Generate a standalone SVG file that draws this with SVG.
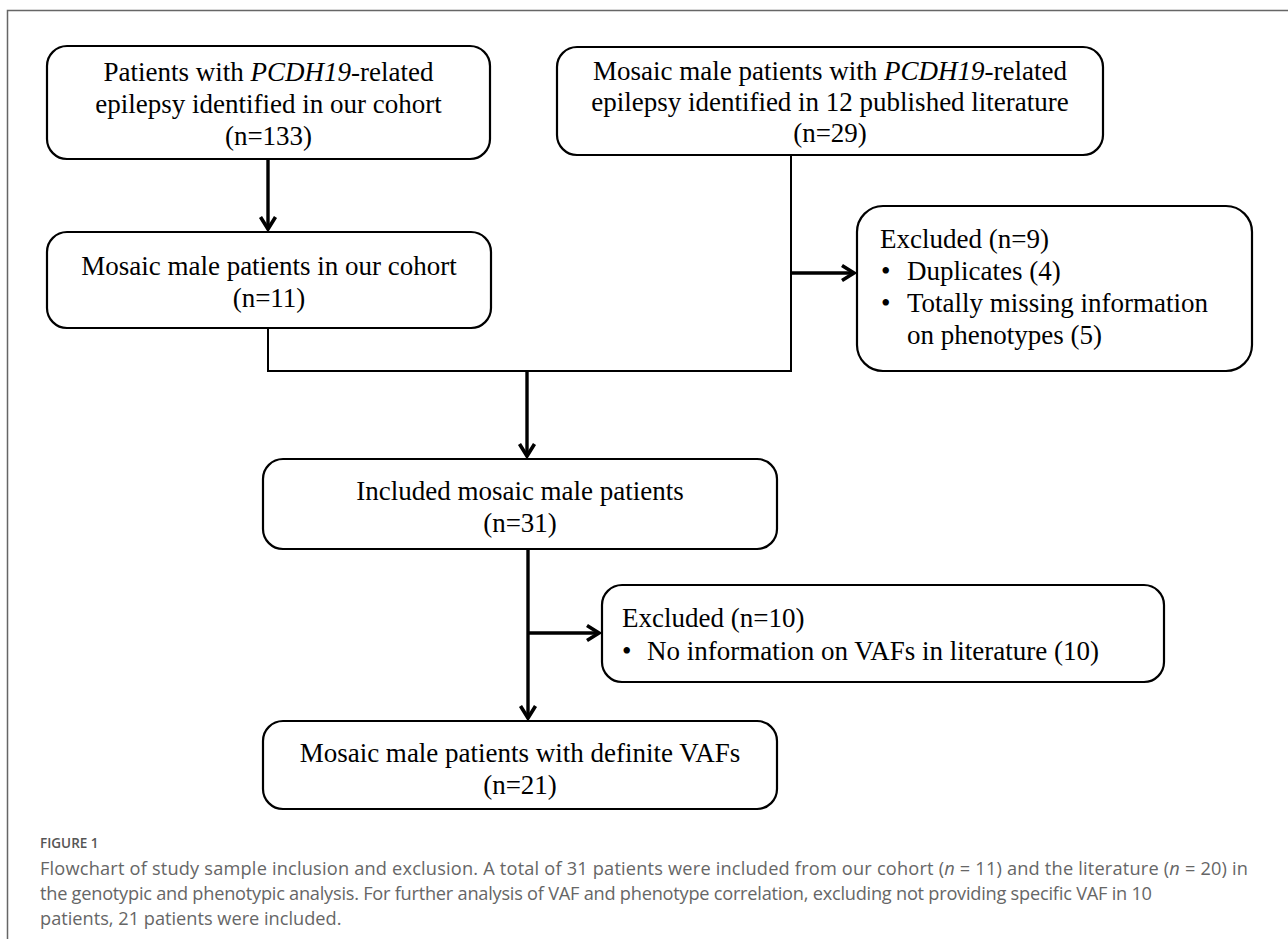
<svg xmlns="http://www.w3.org/2000/svg" width="1288" height="939" viewBox="0 0 1288 939">
<style>
.box{fill:#fff;stroke:#000;stroke-width:2.2}
.t{font-family:"Liberation Serif","Times New Roman",serif;font-size:27px;fill:#000}
.c{text-anchor:middle}
.it{font-style:italic}
.thin{fill:none;stroke:#000;stroke-width:2}
.thick{fill:none;stroke:#000;stroke-width:3.4}
.frame{fill:none;stroke:#666;stroke-width:1.5}
.cap{font-family:"Open Sans","Noto Sans",sans-serif;font-size:18.2px;fill:#666}
.fig{font-family:"Open Sans","Noto Sans",sans-serif;font-size:13.5px;font-weight:600;fill:#555}
</style>
<defs>
<marker id="ah" markerUnits="userSpaceOnUse" markerWidth="24" markerHeight="24" viewBox="-18 -12 24 24" refX="0" refY="0" orient="auto" overflow="visible">
<path d="M-12,-7.5 L0,0 L-12,7.5" fill="none" stroke="#000" stroke-width="3.6" stroke-linejoin="miter"/>
</marker>
</defs>
<rect width="1288" height="939" fill="#fff"/>
<path class="frame" d="M7.5,939 V10.5 H1288"/>

<g id="connectors">
<line class="thick" x1="268" y1="159" x2="268" y2="229" marker-end="url(#ah)"/>
<polyline class="thin" points="268,328 268,371 791,371"/>
<line class="thin" x1="791" y1="155" x2="791" y2="372"/>
<line class="thick" x1="791" y1="273" x2="854" y2="273" marker-end="url(#ah)"/>
<line class="thick" x1="527" y1="371" x2="527" y2="456" marker-end="url(#ah)"/>
<line class="thick" x1="528" y1="549" x2="528" y2="718" marker-end="url(#ah)"/>
<line class="thick" x1="528" y1="633" x2="599" y2="633" marker-end="url(#ah)"/>
</g>

<g id="node-cohort">
<rect class="box" x="47" y="46" width="443" height="113" rx="20"/>
<text class="t c" x="268.5" y="81">Patients with <tspan class="it">PCDH19</tspan>-related</text>
<text class="t c" x="268.5" y="113">epilepsy identified in our cohort</text>
<text class="t c" x="268.5" y="145">(n=133)</text>
</g>

<g id="node-literature">
<rect class="box" x="557" y="47" width="546" height="108" rx="20"/>
<text class="t c" x="830" y="80">Mosaic male patients with <tspan class="it">PCDH19</tspan>-related</text>
<text class="t c" x="830" y="111">epilepsy identified in 12 published literature</text>
<text class="t c" x="830" y="142">(n=29)</text>
</g>

<g id="node-mosaic-cohort">
<rect class="box" x="47" y="232" width="444" height="96" rx="20"/>
<text class="t c" x="269" y="275">Mosaic male patients in our cohort</text>
<text class="t c" x="269" y="307">(n=11)</text>
</g>

<g id="node-excluded-9">
<rect class="box" x="857" y="206" width="395" height="165" rx="26"/>
<text class="t" x="880" y="248">Excluded (n=9)</text>
<text class="t" x="881" y="280">•</text>
<text class="t" x="907" y="280">Duplicates (4)</text>
<text class="t" x="881" y="312">•</text>
<text class="t" x="907" y="312">Totally missing information</text>
<text class="t" x="907" y="344">on phenotypes (5)</text>
</g>

<g id="node-included">
<rect class="box" x="263" y="459" width="514" height="90" rx="20"/>
<text class="t c" x="520" y="500">Included mosaic male patients</text>
<text class="t c" x="520" y="532">(n=31)</text>
</g>

<g id="node-excluded-10">
<rect class="box" x="602" y="585" width="562" height="97" rx="20"/>
<text class="t" x="622" y="627">Excluded (n=10)</text>
<text class="t" x="622" y="660">•</text>
<text class="t" x="647" y="660">No information on VAFs in literature (10)</text>
</g>

<g id="node-definite">
<rect class="box" x="263" y="721" width="514" height="88" rx="20"/>
<text class="t c" x="520" y="762">Mosaic male patients with definite VAFs</text>
<text class="t c" x="520" y="794">(n=21)</text>
</g>

<g id="caption">
<text class="fig" x="40" y="848">FIGURE 1</text>
<text class="cap" x="40" y="875" textLength="1208">Flowchart of study sample inclusion and exclusion. A total of 31 patients were included from our cohort (<tspan font-style="italic">n</tspan> = 11) and the literature (<tspan font-style="italic">n</tspan> = 20) in</text>
<text class="cap" x="40" y="900" textLength="1112">the genotypic and phenotypic analysis. For further analysis of VAF and phenotype correlation, excluding not providing specific VAF in 10</text>
<text class="cap" x="40" y="925">patients, 21 patients were included.</text>
</g>
</svg>
